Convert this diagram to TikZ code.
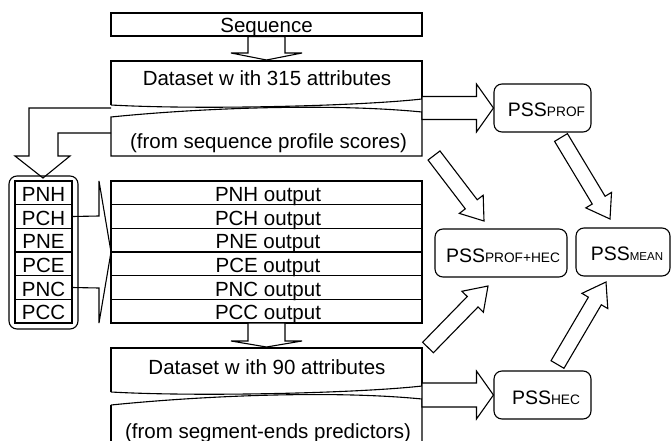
\documentclass[tikz,border=0pt]{standalone}
\usepackage{fontspec}
\setmainfont{Liberation Sans}
\usetikzlibrary{calc}
\newcommand\mainsize{\fontsize{20.5}{24}\selectfont}
\newcommand\psssize{\fontsize{19.5}{23}\selectfont}
\newcommand\subsize{\fontsize{13.7}{16}\selectfont}
\newcommand\meansize{\fontsize{11.5}{14}\selectfont}
% block arrow: tail, tip, shaft half width, head half width, head length
\newcommand\blockarrow[5]{%
  \coordinate (hbA) at ($(#2)!#5!(#1)$);
  \draw[blk] ($(#1)!#3!90:(#2)$) -- ($(hbA)!#3!90:(#2)$) -- ($(hbA)!#4!90:(#2)$)
    -- (#2) -- ($(hbA)!#4!-90:(#2)$) -- ($(hbA)!#3!-90:(#2)$)
    -- ($(#1)!#3!-90:(#2)$) -- cycle;}
\begin{document}
\begin{tikzpicture}[x=1pt,y=-1pt,line width=1.1pt,font=\mainsize,
  blk/.style={draw,fill=white,line join=miter},
  cell/.style={draw,inner sep=0,minimum height=23.67},
  pss/.style={draw,rounded corners=8pt,inner sep=0,minimum height=48},
  lbl/.style={anchor=base,inner sep=0}]
\useasboundingbox (0,0) rectangle (671,441);
\clip (0,0) rectangle (671,441);

% Sequence
\node[cell,minimum width=311,minimum height=23] (seq) at (266.5,24.5) {};
\node[lbl] (tseq) at (266.5,33) {Sequence};

% Dataset with 315 attributes (torn box)
\draw (111,105) -- (111,61) -- (422,61) -- (422,99);
\draw (111,105) .. controls (200,110) and (360,106) .. (422,99);
\draw (111,117) .. controls (200,108) and (330,103) .. (422,112) -- (422,156) -- (111,156) -- cycle;
\node[lbl] (tds1) at (267,86) {Dataset w ith 315 attributes};
\node[lbl] (tds1b) at (268.5,148) {(from sequence profile scores)};

% Dataset with 90 attributes (torn box)
\draw (111,392) -- (111,348) -- (422,348) -- (422,386);
\draw (111,392) .. controls (200,397) and (360,393) .. (422,386);
\draw (111,405) .. controls (200,396) and (330,390) .. (422,399) -- (422,450);
\draw (111,405) -- (111,450);
\node[lbl] (tds2) at (267,374) {Dataset w ith 90 attributes};
\node[lbl] (tds2b) at (268,438) {(from segment-ends predictors)};

% predictor group and outputs
\node[draw,rounded corners=8pt,inner sep=0,minimum width=69,minimum height=153] (grp) at (43.5,252.5) {};
\foreach \n [count=\i from 0] in {PNH,PCH,PNE,PCE,PNC,PCC}{
  \node[cell,minimum width=57] (c\n) at (43.5,{192.83+23.67*\i}) {};
  \node[lbl] (l\n) at (43.5,{201.5+23.67*\i}) {\n};
  \node[cell,minimum width=311] (o\n) at (266.5,{192.83+23.67*\i}) {};
  \node[lbl] (lo\n) at (268,{201.5+23.67*\i}) {\n{} output};
}

% bracket
\coordinate (brT) at (99,181);
\coordinate (brM) at (111,252);
\coordinate (brB) at (99,323);
\draw (cPCH.east) -- (99,216) -- (brT) -- (brM) -- (brB) -- (99,288) -- (cPNC.east);

% bent arrow from dataset to predictors
\coordinate (bentTip) at (43,178);
\draw[line join=miter] (111,108) -- (29,108) -- (29,156) -- (15,156) -- (bentTip)
  -- (70,156) -- (58,156) -- (58,133) -- (111,133);

% PSS boxes
\node[pss,minimum width=97] (pprof) at (542.5,108) {};
\node[lbl] (tprof) at (546.5,117) {\psssize PSS\subsize PROF};
\node[pss,minimum width=132] (pph) at (501,253) {};
\node[lbl] (tph) at (503,262) {\psssize PSS\subsize PROF+HEC};
\node[pss,minimum width=94] (pmean) at (623,252) {};
\node[lbl] (tmean) at (627,260) {\psssize PSS\meansize MEAN};
\node[pss,minimum width=97] (phec) at (542.5,395) {};
\node[lbl] (thec) at (546,404) {\psssize PSS\subsize HEC};

% arrow end points
\coordinate (a1h) at (266.5,60);
\coordinate (a2t) at (266.5,323);
\coordinate (a2h) at (266.5,347);
\coordinate (h1t) at (422,108);
\coordinate (h2t) at (422,395);
\coordinate (d1t) at (434,155.5);
\coordinate (d1h) at (484,221);
\coordinate (d2t) at (561,137.5);
\coordinate (d2h) at (610,219);
\coordinate (d3t) at (428,347.5);
\coordinate (d3h) at (488,286);
\coordinate (d4t) at (557.5,364.5);
\coordinate (d4h) at (606,282);

% block arrows
\blockarrow{seq.south}{a1h}{18.5pt}{35.5pt}{7pt}
\blockarrow{a2t}{a2h}{18.5pt}{35.5pt}{6pt}
\blockarrow{h1t}{pprof.west}{11.5pt}{24pt}{17pt}
\blockarrow{h2t}{phec.west}{12pt}{24pt}{17pt}
\blockarrow{d1t}{d1h}{7.5pt}{15pt}{21pt}
\blockarrow{d2t}{d2h}{7.5pt}{15pt}{22pt}
\blockarrow{d3t}{d3h}{7.5pt}{15pt}{22pt}
\blockarrow{d4t}{d4h}{7.5pt}{15pt}{22pt}
\end{tikzpicture}
\end{document}
